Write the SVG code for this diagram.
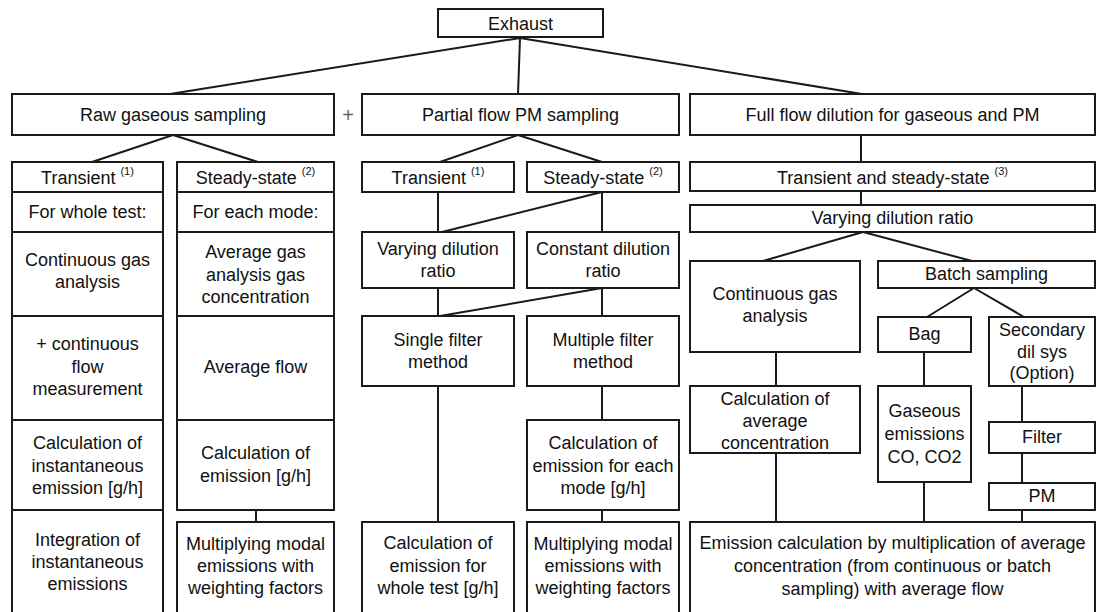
<svg xmlns="http://www.w3.org/2000/svg" width="1097" height="612" viewBox="0 0 1097 612">
<style>
rect{fill:#fff;stroke:#1a1a1a;stroke-width:2}
line{stroke:#1a1a1a;stroke-width:2}
text{font-family:"Liberation Sans",Arial,sans-serif;font-size:18px;fill:#111;text-anchor:middle}
.sup{font-size:11px}
.plus{fill:#666;font-size:20px}
</style>
<rect width="1097" height="612" style="fill:#fff;stroke:none"/>
<g id="connectors">
<line x1="520" y1="38" x2="170" y2="94"/>
<line x1="520" y1="38" x2="518" y2="94"/>
<line x1="520" y1="38" x2="862" y2="94"/>
<line x1="173" y1="135" x2="92" y2="162"/>
<line x1="173" y1="135" x2="258" y2="162"/>
<line x1="518" y1="135" x2="440" y2="162"/>
<line x1="518" y1="135" x2="602" y2="162"/>
<line x1="861" y1="135" x2="861" y2="162"/>
<line x1="861" y1="191" x2="861" y2="205"/>
<line x1="863" y1="232" x2="763" y2="261"/>
<line x1="863" y1="232" x2="972" y2="261"/>
<line x1="974" y1="288" x2="927" y2="317"/>
<line x1="974" y1="288" x2="1024" y2="317"/>
<line x1="438" y1="192" x2="438" y2="232"/>
<line x1="602" y1="192" x2="602" y2="232"/>
<line x1="602" y1="192" x2="442" y2="232"/>
<line x1="438" y1="288" x2="438" y2="316"/>
<line x1="602" y1="288" x2="602" y2="316"/>
<line x1="602" y1="288" x2="440" y2="316"/>
<line x1="438" y1="386" x2="438" y2="522"/>
<line x1="602" y1="386" x2="602" y2="420"/>
<line x1="602" y1="510" x2="602" y2="522"/>
<line x1="256" y1="510" x2="256" y2="522"/>
<line x1="776" y1="352" x2="776" y2="386"/>
<line x1="776" y1="453" x2="776" y2="522"/>
<line x1="924" y1="352" x2="924" y2="386"/>
<line x1="924" y1="482" x2="924" y2="522"/>
<line x1="1022" y1="386" x2="1022" y2="422"/>
<line x1="1022" y1="453" x2="1022" y2="483"/>
<line x1="1022" y1="510" x2="1022" y2="522"/>
</g>
<g id="exhaust"><rect x="438" y="9" width="165" height="28"/><text x="520.5" y="30">Exhaust</text></g>
<g id="raw"><rect x="12" y="94" width="322" height="41"/><text x="173" y="121">Raw gaseous sampling</text></g>
<g id="plus"><text class="plus" x="348" y="122">+</text></g>
<g id="partial"><rect x="362" y="94" width="317" height="41"/><text x="520.5" y="121">Partial flow PM sampling</text></g>
<g id="full"><rect x="690" y="94" width="405" height="41"/><text x="892.5" y="121">Full flow dilution for gaseous and PM</text></g>

<g id="raw-transient"><rect x="12" y="162" width="151" height="30"/><text x="87.5" y="184">Transient <tspan class="sup" dy="-9">(1)</tspan></text></g>
<g id="raw-whole"><rect x="12" y="192" width="151" height="40"/><text x="87.5" y="218">For whole test:</text></g>
<g id="raw-cont"><rect x="12" y="232" width="151" height="84"/><text x="87.5" y="266">Continuous gas</text><text x="87.5" y="288">analysis</text></g>
<g id="raw-flow"><rect x="12" y="316" width="151" height="104"/><text x="87.5" y="350">+ continuous</text><text x="87.5" y="373">flow</text><text x="87.5" y="395">measurement</text></g>
<g id="raw-inst"><rect x="12" y="420" width="151" height="90"/><text x="87.5" y="449">Calculation of</text><text x="87.5" y="472">instantaneous</text><text x="87.5" y="494">emission [g/h]</text></g>
<g id="raw-integ"><rect x="12" y="510" width="151" height="112"/><text x="87.5" y="546">Integration of</text><text x="87.5" y="568">instantaneous</text><text x="87.5" y="590">emissions</text></g>

<g id="raw-steady"><rect x="177" y="162" width="157" height="30"/><text x="255.5" y="184">Steady-state <tspan class="sup" dy="-9">(2)</tspan></text></g>
<g id="raw-mode"><rect x="177" y="192" width="157" height="40"/><text x="255.5" y="218">For each mode:</text></g>
<g id="raw-avggas"><rect x="177" y="232" width="157" height="84"/><text x="255.5" y="258">Average gas</text><text x="255.5" y="281">analysis gas</text><text x="255.5" y="303">concentration</text></g>
<g id="raw-avgflow"><rect x="177" y="316" width="157" height="104"/><text x="255.5" y="373">Average flow</text></g>
<g id="raw-calc"><rect x="177" y="420" width="157" height="90"/><text x="255.5" y="459">Calculation of</text><text x="255.5" y="482">emission [g/h]</text></g>
<g id="raw-mult"><rect x="177" y="522" width="157" height="100"/><text x="255.5" y="550">Multiplying modal</text><text x="255.5" y="572">emissions with</text><text x="255.5" y="594">weighting factors</text></g>

<g id="pf-transient"><rect x="362" y="162" width="152" height="30"/><text x="438" y="184">Transient <tspan class="sup" dy="-9">(1)</tspan></text></g>
<g id="pf-steady"><rect x="527" y="162" width="152" height="30"/><text x="603" y="184">Steady-state <tspan class="sup" dy="-9">(2)</tspan></text></g>
<g id="pf-varying"><rect x="362" y="232" width="152" height="56"/><text x="438" y="255">Varying dilution</text><text x="438" y="277">ratio</text></g>
<g id="pf-constant"><rect x="527" y="232" width="152" height="56"/><text x="603" y="255">Constant dilution</text><text x="603" y="277">ratio</text></g>
<g id="pf-single"><rect x="362" y="316" width="152" height="70"/><text x="438" y="346">Single filter</text><text x="438" y="368">method</text></g>
<g id="pf-multiple"><rect x="527" y="316" width="152" height="70"/><text x="603" y="346">Multiple filter</text><text x="603" y="368">method</text></g>
<g id="pf-calcmode"><rect x="527" y="420" width="152" height="90"/><text x="603" y="449">Calculation of</text><text x="603" y="472">emission for each</text><text x="603" y="494">mode [g/h]</text></g>
<g id="pf-calcwhole"><rect x="362" y="522" width="152" height="100"/><text x="438" y="549">Calculation of</text><text x="438" y="572">emission for</text><text x="438" y="594">whole test [g/h]</text></g>
<g id="pf-mult"><rect x="527" y="522" width="152" height="100"/><text x="603" y="550">Multiplying modal</text><text x="603" y="572">emissions with</text><text x="603" y="594">weighting factors</text></g>

<g id="ff-ts"><rect x="690" y="162" width="405" height="29"/><text x="892.5" y="184">Transient and steady-state <tspan class="sup" dy="-9">(3)</tspan></text></g>
<g id="ff-varying"><rect x="690" y="205" width="405" height="27"/><text x="892.5" y="224">Varying dilution ratio</text></g>
<g id="ff-cont"><rect x="690" y="261" width="170" height="91"/><text x="775" y="300">Continuous gas</text><text x="775" y="322">analysis</text></g>
<g id="ff-batch"><rect x="878" y="261" width="217" height="27"/><text x="986.5" y="280">Batch sampling</text></g>
<g id="ff-bag"><rect x="878" y="317" width="93" height="35"/><text x="924.5" y="340">Bag</text></g>
<g id="ff-secondary"><rect x="989" y="317" width="106" height="69"/><text x="1042" y="336">Secondary</text><text x="1042" y="358">dil sys</text><text x="1042" y="379">(Option)</text></g>
<g id="ff-avgconc"><rect x="690" y="386" width="170" height="67"/><text x="775" y="405">Calculation of</text><text x="775" y="427">average</text><text x="775" y="449">concentration</text></g>
<g id="ff-gaseous"><rect x="878" y="386" width="93" height="96"/><text x="924.5" y="417">Gaseous</text><text x="924.5" y="440">emissions</text><text x="924.5" y="463">CO, CO2</text></g>
<g id="ff-filter"><rect x="989" y="422" width="106" height="31"/><text x="1042" y="443">Filter</text></g>
<g id="ff-pm"><rect x="989" y="483" width="106" height="27"/><text x="1042" y="502">PM</text></g>
<g id="ff-emission"><rect x="690" y="522" width="405" height="100"/><text x="892.5" y="549">Emission calculation by multiplication of average</text><text x="892.5" y="572">concentration (from continuous or batch</text><text x="892.5" y="595">sampling) with average flow</text></g>
</svg>
